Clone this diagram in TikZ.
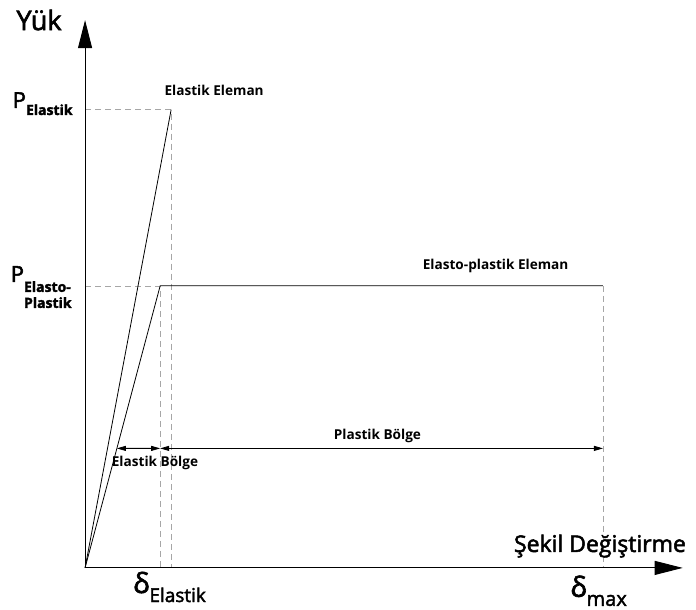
\documentclass[tikz,border=0pt]{standalone}
\usepackage{fontspec}
\setmainfont{Open Sans}
\newfontfamily\heavyfont{Open Sans}[FakeBold=2.2]
\usetikzlibrary{arrows.meta}
\usetikzlibrary{calc}

\tikzset{
  axis/.style={color=black,line width=0.9pt,-{Triangle[length=28pt,width=14pt]}},
  guide/.style={color=gray!70,line width=0.6pt,dash pattern=on 6pt off 4pt},
  curve/.style={color=black,line width=0.8pt},
  span/.style={color=black,line width=0.8pt,{Triangle[length=9pt,width=5pt]}-{Triangle[length=9pt,width=5pt]}},
  lbl/.style={anchor=base,font=\fontsize{13.6}{15}\selectfont\bfseries},
  axlbl/.style={anchor=base,font=\heavyfont\fontsize{22}{24}\selectfont},
}

\begin{document}
\begin{tikzpicture}[scale=0.7]
\useasboundingbox (-4.27,-2.11) rectangle (30.67,28.51);
% axes
\coordinate (O) at (0,0);
\coordinate (ytop) at (0,27.5);
\coordinate (xtip) at (30,0);
% curve points
\coordinate (elpeak) at (4.32,23);
\coordinate (yield) at (3.77,14.16);
\coordinate (plend) at (26,14.16);
\coordinate (elax) at (0,23);
\coordinate (yax) at (0,14.16);
\coordinate (elfoot) at (4.32,0);
\coordinate (yfoot) at (3.77,0);
\coordinate (plfoot) at (26,0);
% zones
\coordinate (zl) at ($(O)!6/14.16!(yield)$);
\coordinate (zm) at (3.77,6);
\coordinate (zr) at (26,6);
\draw[guide] (elax) -- (elpeak) -- (elfoot);
\draw[guide] (yax) -- (yield) -- (yfoot);
\draw[guide] (plend) -- (plfoot);
\draw[axis] (O) -- (ytop);
\draw[axis] (O) -- (xtip);
\draw[curve] (O) -- (elpeak);
\draw[curve] (O) -- (yield) -- (plend);
\draw[span] (zl) -- (zm);
\draw[span] (zm) -- (zr);
\node[axlbl,font=\heavyfont\fontsize{27}{29}\selectfont] (yuk) at (-2.31,27.0) {Yük};
\node[axlbl,font=\heavyfont\fontsize{23}{25}\selectfont] (sekil) at (25.85,0.8) {Şekil Değiştirme};
\node[anchor=base east] (pel) at (-0.45,23.09) {\heavyfont\fontsize{22}{22}\selectfont P\raisebox{-7pt}{\fontsize{14}{14}\selectfont\bfseries Elastik}};
\node[anchor=base east] (pep) at (-0.5,14.36) {\heavyfont\fontsize{22}{22}\selectfont P\raisebox{-10pt}{\fontsize{14}{16}\selectfont\bfseries\begin{tabular}[t]{@{}l@{}}Elasto-\\Plastik\end{tabular}}};
\node[anchor=base] (del) at (4.24,-1.26) {\heavyfont\fontsize{28}{28}\selectfont δ\raisebox{-9pt}{\fontsize{19}{19}\selectfont Elastik}};
\node[anchor=base] (dmax) at (25.78,-1.45) {\heavyfont\fontsize{28}{28}\selectfont δ\raisebox{-9pt}{\fontsize{20}{20}\selectfont max}};
\node[lbl] (elel) at (6.48,23.74) {Elastik Eleman};
\node[lbl] (epel) at (20.61,14.96) {Elasto-plastik Eleman};
\node[lbl] (plz) at (14.68,6.43) {Plastik Bölge};
\node[lbl] (elz) at (3.51,5.07) {Elastik Bölge};
\end{tikzpicture}
\end{document}
